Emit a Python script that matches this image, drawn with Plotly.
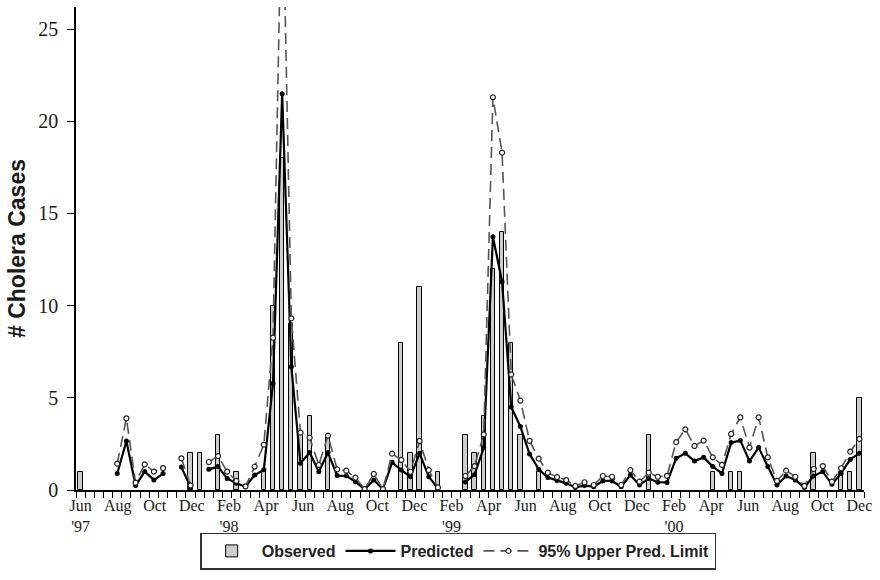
import plotly.graph_objects as go

N = 86
idx = list(range(N))

# Observed counts (semi-monthly periods, Jun '97 .. Dec '00); None = 0
observed_pairs = {0: 1, 12: 2, 13: 2, 15: 3, 17: 1, 20: 1, 21: 10, 22: 18, 23: 9, 24: 3,
                  25: 4, 27: 3, 35: 8, 36: 2, 37: 11, 39: 1, 42: 3, 43: 2, 44: 4, 45: 12,
                  46: 14, 47: 8, 48: 3, 50: 1, 62: 3, 69: 1, 71: 1, 72: 1, 80: 2, 83: 1,
                  84: 1, 85: 5}
observed = [observed_pairs.get(i) for i in idx]

predicted_pairs = {
    4: 0.89, 5: 2.66, 6: 0.24, 7: 1.0, 8: 0.54, 9: 0.89,
    11: 1.25, 12: 0.15,
    14: 1.12, 15: 1.27, 16: 0.63, 17: 0.36, 18: 0.18, 19: 0.81, 20: 1.1,
    21: 5.78, 22: 21.5, 23: 6.69, 24: 1.45, 25: 2.03, 26: 0.99, 27: 2.03,
    28: 0.78, 29: 0.77, 30: 0.45, 31: 0.04, 32: 0.54, 33: 0.04, 34: 1.5,
    35: 1.08, 36: 0.72, 37: 1.99, 38: 0.72, 39: 0.09,
    42: 0.44, 43: 0.83, 44: 2.3, 45: 13.74, 46: 11.3, 47: 4.5, 48: 3.44,
    49: 1.95, 50: 1.12, 51: 0.68, 52: 0.52, 53: 0.36, 54: 0.14, 55: 0.24,
    56: 0.18, 57: 0.49, 58: 0.49, 59: 0.18, 60: 0.81, 61: 0.27, 62: 0.63,
    63: 0.42, 64: 0.41, 65: 1.72, 66: 1.99, 67: 1.57, 68: 1.77, 69: 1.27,
    70: 0.9, 71: 2.57, 72: 2.68, 73: 1.57, 74: 2.3, 75: 1.27, 76: 0.27,
    77: 0.76, 78: 0.54, 79: 0.14, 80: 0.76, 81: 1.0, 82: 0.31, 83: 0.9,
    84: 1.66, 85: 1.99}
predicted = [predicted_pairs.get(i) for i in idx]

upper_pairs = {
    4: 1.43, 5: 3.89, 6: 0.4, 7: 1.39, 8: 1.0, 9: 1.19,
    11: 1.72, 12: 0.25,
    14: 1.52, 15: 1.84, 16: 1.0, 17: 0.49, 18: 0.2, 19: 1.27, 20: 2.46,
    21: 8.26, 22: 34.0, 23: 9.31, 24: 3.11, 25: 2.84, 26: 1.36, 27: 2.95,
    28: 1.12, 29: 1.05, 30: 0.67, 31: 0.05, 32: 0.87, 33: 0.05, 34: 1.97,
    35: 1.63, 36: 0.99, 37: 2.66, 38: 1.08, 39: 0.14,
    42: 0.76, 43: 1.3, 44: 3.02, 45: 21.3, 46: 18.3, 47: 6.27, 48: 4.85,
    49: 2.67, 50: 1.7, 51: 0.94, 52: 0.7, 53: 0.54, 54: 0.22, 55: 0.42,
    56: 0.27, 57: 0.76, 58: 0.72, 59: 0.27, 60: 1.08, 61: 0.45, 62: 0.94,
    63: 0.72, 64: 0.77, 65: 2.6, 66: 3.29, 67: 2.39, 68: 2.68, 69: 1.77,
    70: 1.36, 71: 3.04, 72: 3.94, 73: 2.3, 74: 3.94, 75: 1.77, 76: 0.49,
    77: 1.05, 78: 0.72, 79: 0.22, 80: 1.14, 81: 1.3, 82: 0.45, 83: 1.18,
    84: 2.08, 85: 2.77}
upper = [upper_pairs.get(i) for i in idx]

month_labels = ["Jun<br>'97", "Aug", "Oct", "Dec", "Feb<br>'98", "Apr", "Jun", "Aug", "Oct",
                "Dec", "Feb<br>'99", "Apr", "Jun", "Aug", "Oct", "Dec", "Feb<br>'00", "Apr",
                "Jun", "Aug", "Oct", "Dec"]
label_pos = [k * 85 / 21 for k in range(len(month_labels))]
y_ticks = [0, 5, 10, 15, 20, 25]

fig = go.Figure()
fig.add_trace(go.Bar(
    x=idx, y=observed, name="<b>Observed</b>", width=0.47,
    marker=dict(color="#cdcdcd", line=dict(color="black", width=1)),
))
fig.add_trace(go.Scatter(
    x=idx, y=predicted, name="<b>Predicted</b>", mode="lines+markers",
    line=dict(color="black", width=2.2),
    marker=dict(symbol="circle", size=5, color="black"),
    connectgaps=False,
))
fig.add_trace(go.Scatter(
    x=idx, y=upper, name="<b>95% Upper Pred. Limit</b>", mode="lines+markers",
    line=dict(color="#555555", width=1.6, dash="11px,6px"),
    marker=dict(symbol="circle", size=5, color="white", line=dict(color="#222222", width=1.2)),
    connectgaps=False,
))

fig.update_layout(
    width=880, height=580,
    margin=dict(l=76, r=16, t=7, b=90),
    plot_bgcolor="white", paper_bgcolor="white",
    bargap=0,
    showlegend=True,
    legend=dict(
        orientation="h", x=0.485, xanchor="center", y=-0.088, yanchor="top",
        bordercolor="#333333", borderwidth=1.5,
        font=dict(family="Liberation Sans", size=16, color="#222222"),
        itemwidth=50, traceorder="normal",
    ),
    font=dict(family="Liberation Serif", color="black"),
)
fig.update_xaxes(
    range=[-0.5, 85.5], tickmode="array", tickvals=label_pos, ticktext=month_labels,
    ticks="", showline=True, linecolor="black", linewidth=1.5, showgrid=False,
    zeroline=False, tickfont=dict(family="Liberation Serif", size=16, color="#1a1a1a"),
    tickangle=0,
    minor=dict(tickmode="array", tickvals=[i - 0.5 for i in range(N + 1)],
               ticks="outside", ticklen=6, tickcolor="black", tickwidth=1.2, showgrid=False),
)
fig.update_yaxes(
    range=[0, 26.2], tickmode="array", tickvals=y_ticks,
    ticks="outside", ticklen=7, tickcolor="black", tickwidth=1.2,
    ticklabelstandoff=5,
    showline=True, linecolor="black", linewidth=1.5, showgrid=False, zeroline=False,
    tickfont=dict(family="Liberation Serif", size=20, color="#1a1a1a"),
    title=dict(text="<b># Cholera Cases</b>", font=dict(family="Liberation Sans", size=23, color="#1a1a1a"),
               standoff=6),
)

fig.write_html("out.html")
